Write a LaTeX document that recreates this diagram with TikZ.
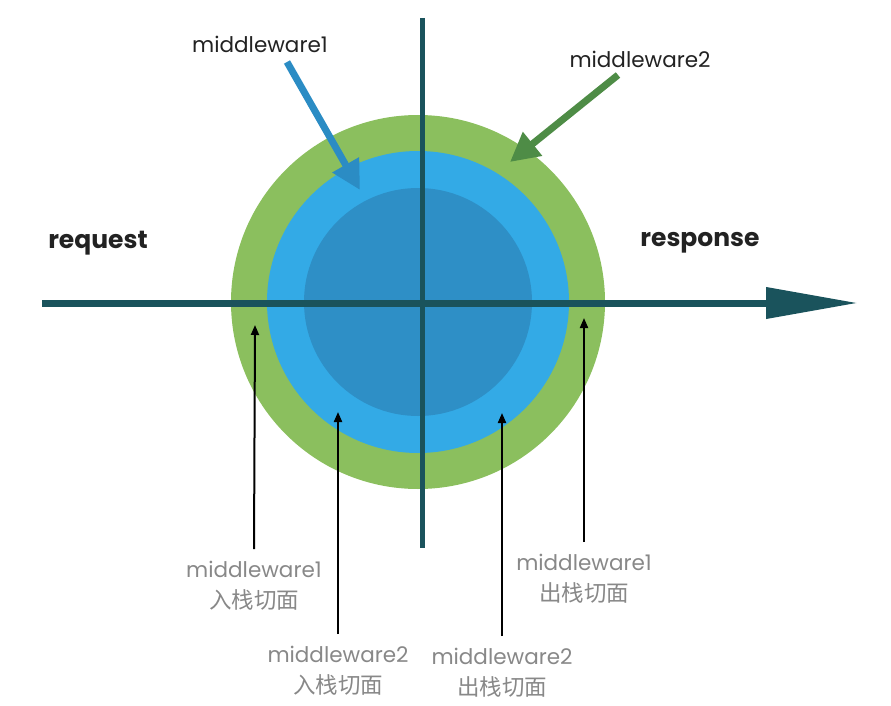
\documentclass[tikz,border=0pt]{standalone}
\usepackage{fontspec}
\setmainfont{Poppins}
\newfontfamily\cjk{Noto Sans CJK SC}
\usetikzlibrary{positioning, arrows.meta}
\definecolor{mwGreen}{RGB}{139,191,94}
\definecolor{mwBlue}{RGB}{51,170,230}
\definecolor{mwDarkBlue}{RGB}{46,143,198}
\definecolor{mwTeal}{RGB}{26,83,92}
\definecolor{mwArrowBlue}{RGB}{43,140,196}
\definecolor{mwArrowGreen}{RGB}{78,140,70}
\definecolor{mwGray}{RGB}{136,136,136}
\definecolor{mwText}{RGB}{34,34,34}
\newcommand{\cjkcut}[1]{{\cjk\fontsize{22.5}{31}\selectfont #1}}

\begin{document}
\begin{tikzpicture}[x=1pt, y=-1pt,
  ring/.style={circle, inner sep=0pt, minimum size=#1},
  axis/.style={draw=mwTeal, line width=#1},
  ptr/.style={draw=#1, line width=7pt, -{Triangle[length=29pt, width=29pt]}},
  cut/.style={draw=black, line width=2pt, -{Triangle[length=10pt, width=8pt]}},
  cutlabel/.style={text=mwGray, align=center, font=\fontsize{21.5}{31}\selectfont, inner sep=0pt},
  title/.style={text=mwText, font=\fontsize{21.5}{24}\selectfont},
  side/.style={text=mwText, font=\fontsize{25}{28}\selectfont\bfseries}]
  \useasboundingbox (0,0) rectangle (891,706);
  % rings
  \node[ring=374pt, fill=mwGreen] (outer) at (418,302) {};
  \node[ring=302pt, fill=mwBlue] (mid) at (outer.center) {};
  \node[ring=228pt, fill=mwDarkBlue] (core) at (outer.center) {};
  % axes
  \coordinate (reqstart) at (42,303);
  \coordinate (respend) at (858,303);
  \coordinate (vtop) at (422,18);
  \coordinate (vbottom) at (422,548);
  \draw[axis=5pt] (vtop) -- (vbottom);
  \draw[axis=7pt, -{Triangle[length=92pt, width=30pt]}] (reqstart) -- (respend);
  \node[side] (req) at (98,243) {request};
  \node[side] (resp) at (700,243) {response};
  % middleware pointers
  \node[title] (mwone) at (260,44) {middleware1};
  \node[title] (mwtwo) at (640,59) {middleware2};
  \coordinate (mwonefrom) at (287,62);
  \coordinate (mwoneto) at (360,190);
  \coordinate (mwtwofrom) at (618,75);
  \coordinate (mwtwoto) at (510,162);
  \draw[ptr=mwArrowBlue] (mwonefrom) -- (mwoneto);
  \draw[ptr=mwArrowGreen] (mwtwofrom) -- (mwtwoto);
  % cut labels
  \node[cutlabel] (inone) at (254,586) {middleware1\\\cjkcut{入栈切面}};
  \node[cutlabel] (intwo) at (338,671) {middleware2\\\cjkcut{入栈切面}};
  \node[cutlabel] (outtwo) at (502,673) {middleware2\\\cjkcut{出栈切面}};
  \node[cutlabel] (outone) at (584,579) {middleware1\\\cjkcut{出栈切面}};
  \coordinate (inonetip) at (255,325);
  \coordinate (intwotip) at (338,412);
  \coordinate (outtwotip) at (502,413);
  \coordinate (outonetip) at (584,318);
  \draw[cut] (inone.north) ++(0,-12) -- (inonetip);
  \draw[cut] (intwo.north) ++(0,-12) -- (intwotip);
  \draw[cut] (outtwo.north) ++(0,-12) -- (outtwotip);
  \draw[cut] (outone.north) ++(0,-12) -- (outonetip);
\end{tikzpicture}
\end{document}
